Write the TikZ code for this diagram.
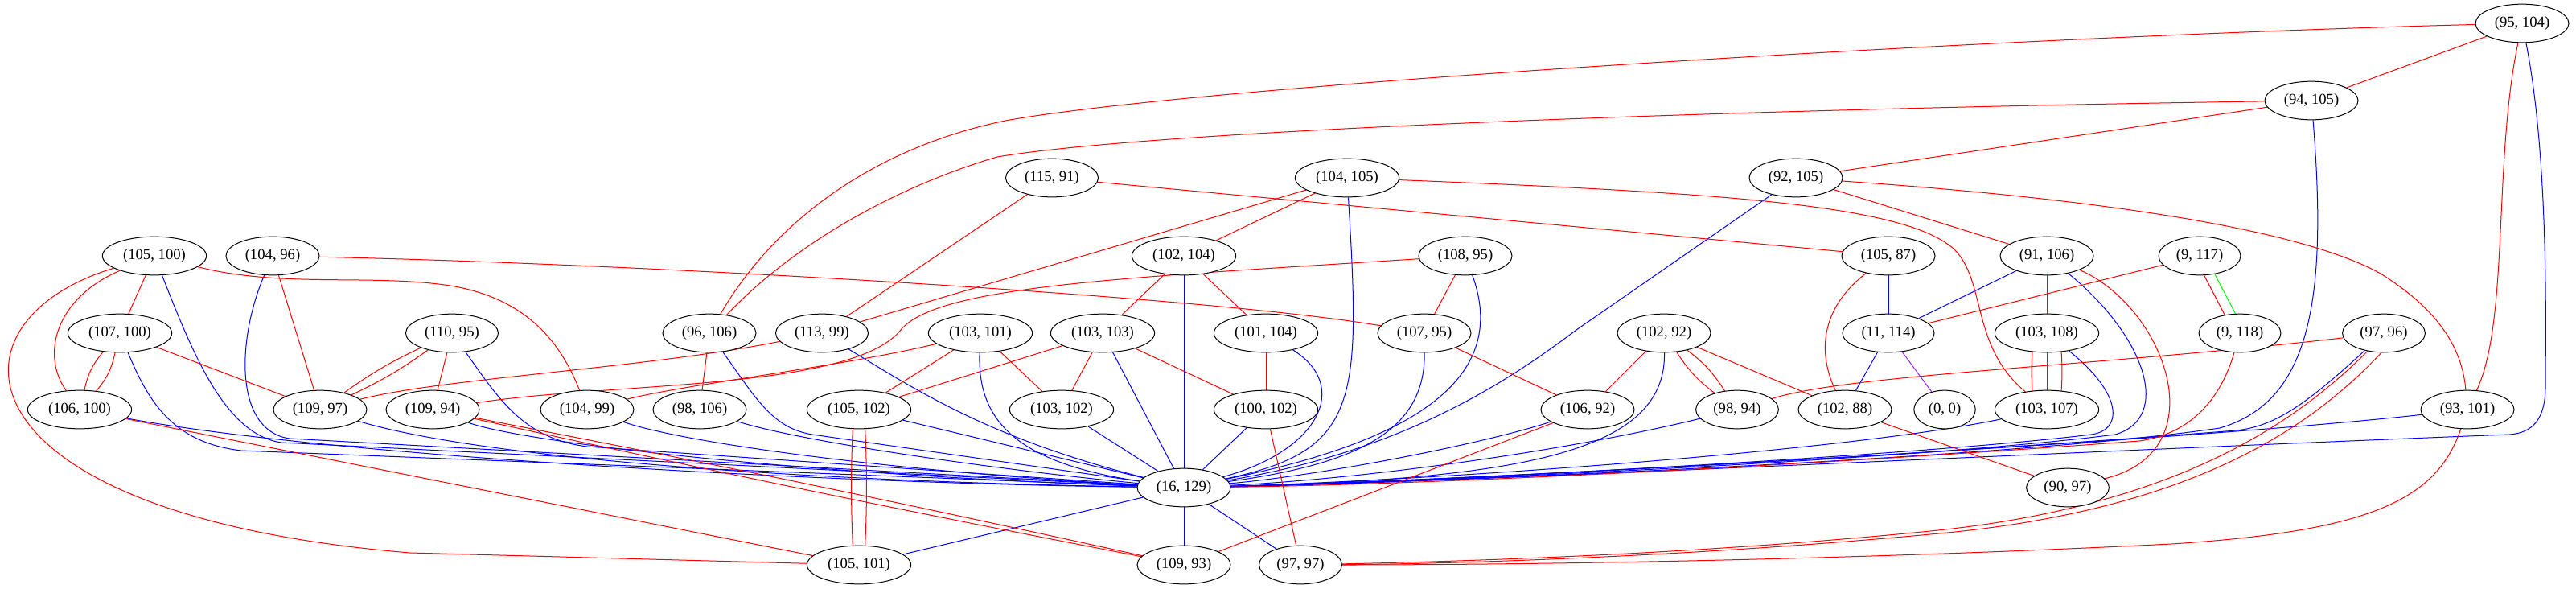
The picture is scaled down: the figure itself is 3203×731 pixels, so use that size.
\documentclass[tikz,border=0pt]{standalone}
\usepackage{fontspec}
\setmainfont{Liberation Serif}
\usetikzlibrary{shapes.geometric}
\pgfdeclarelayer{bg}
\pgfsetlayers{bg,main}
\definecolor{gvgreen}{RGB}{0,255,0}
\definecolor{gvpurple}{RGB}{160,32,240}
\begin{document}
\begin{tikzpicture}[x=1pt,y=-1pt,
  nd/.style={ellipse,draw=black,line width=1pt,fill=white,inner xsep=6.8pt,inner ysep=0pt,minimum height=47.7pt,minimum width=72pt,font=\fontsize{18.67}{22}\selectfont},
  re/.style={draw=red,line width=1pt},
  be/.style={draw=blue,line width=1pt},
  ge/.style={draw=gvgreen,line width=1pt},
  pe/.style={draw=gvpurple,line width=1pt}]
\useasboundingbox (0,0) rectangle (3203,731);
% nodes
\node[nd] (n95x104) at (3136,29) {(95, 104)};
\node[nd] (n94x105) at (2874,125) {(94, 105)};
\node[nd] (n115x91) at (1308,221) {(115, 91)};
\node[nd] (n104x105) at (1675,221) {(104, 105)};
\node[nd] (n92x105) at (2233,221) {(92, 105)};
\node[nd] (n105x100) at (192,318) {(105, 100)};
\node[nd] (n104x96) at (339,318) {(104, 96)};
\node[nd] (n102x104) at (1472,318) {(102, 104)};
\node[nd] (n108x95) at (1822,318) {(108, 95)};
\node[nd] (n105x87) at (2348,318) {(105, 87)};
\node[nd] (n91x106) at (2545,318) {(91, 106)};
\node[nd] (n9x117) at (2735,318) {(9, 117)};
\node[nd] (n107x100) at (149,414) {(107, 100)};
\node[nd] (n110x95) at (562,414) {(110, 95)};
\node[nd] (n96x106) at (882,414) {(96, 106)};
\node[nd] (n113x99) at (1022,414) {(113, 99)};
\node[nd] (n103x101) at (1219,414) {(103, 101)};
\node[nd] (n103x103) at (1371,414) {(103, 103)};
\node[nd] (n101x104) at (1574,414) {(101, 104)};
\node[nd] (n107x95) at (1771,414) {(107, 95)};
\node[nd] (n102x92) at (2069,414) {(102, 92)};
\node[nd] (n11x114) at (2348,414) {(11, 114)};
\node[nd] (n103x108) at (2545,414) {(103, 108)};
\node[nd] (n9x118) at (2785,414) {(9, 118)};
\node[nd] (n97x96) at (2964,414) {(97, 96)};
\node[nd] (n106x100) at (99,509) {(106, 100)};
\node[nd] (n109x97) at (398,509) {(109, 97)};
\node[nd] (n109x94) at (538,509) {(109, 94)};
\node[nd] (n104x99) at (730,509) {(104, 99)};
\node[nd] (n98x106) at (870,509) {(98, 106)};
\node[nd] (n105x102) at (1068,509) {(105, 102)};
\node[nd] (n103x102) at (1320,509) {(103, 102)};
\node[nd] (n100x102) at (1574,509) {(100, 102)};
\node[nd] (n106x92) at (1974,509) {(106, 92)};
\node[nd] (n98x94) at (2160,509) {(98, 94)};
\node[nd] (n102x88) at (2294,509) {(102, 88)};
\node[nd] (n0x0) at (2418,509) {(0, 0)};
\node[nd] (n103x107) at (2545,509) {(103, 107)};
\node[nd] (n93x101) at (3068,509) {(93, 101)};
\node[nd] (n16x129) at (1472,606) {(16, 129)};
\node[nd] (n90x97) at (2571,606) {(90, 97)};
\node[nd] (n105x101) at (1068,702) {(105, 101)};
\node[nd] (n109x93) at (1472,702) {(109, 93)};
\node[nd] (n97x97) at (1617,702) {(97, 97)};
\begin{pgfonlayer}{bg}
\fill[white] (0,0) rectangle (3203,731);
% blue edges to (16,129)
\draw[be] (n105x100) .. controls (240,440) and (280,540) .. (350,550) -- (n16x129);
\draw[be] (n104x96) .. controls (295,420) and (290,535) .. (360,545) -- (n16x129);
\draw[be] (n107x100) .. controls (185,500) and (215,550) .. (300,560) -- (n16x129);
\draw[be] (n110x95) .. controls (620,495) and (650,545) .. (730,555) -- (n16x129);
\draw[be] (n106x100) .. controls (400,565) and (1000,600) .. (n16x129);
\draw[be] (n109x97) .. controls (600,570) and (1000,598) .. (n16x129);
\draw[be] (n109x94) .. controls (650,550) and (1000,590) .. (n16x129);
\draw[be] (n104x99) .. controls (850,550) and (1100,585) .. (n16x129);
\draw[be] (n96x106) .. controls (940,495) and (960,532) .. (1010,540) -- (n16x129);
\draw[be] (n98x106) .. controls (1000,550) and (1250,585) .. (n16x129);
\draw[be] (n113x99) .. controls (1140,485) and (1230,545) .. (n16x129);
\draw[be] (n103x101) .. controls (1215,520) and (1260,575) .. (n16x129);
\draw[be] (n105x102) -- (n16x129);
\draw[be] (n103x102) -- (n16x129);
\draw[be] (n103x103) -- (n16x129);
\draw[be] (n102x104) -- (n16x129);
\draw[be] (n101x104) .. controls (1680,480) and (1640,560) .. (n16x129);
\draw[be] (n100x102) -- (n16x129);
\draw[be] (n104x105) .. controls (1692,500) and (1690,560) .. (n16x129);
\draw[be] (n108x95) .. controls (1870,450) and (1800,540) .. (n16x129);
\draw[be] (n107x95) .. controls (1772,530) and (1700,575) .. (n16x129);
\draw[be] (n102x92) .. controls (2072,560) and (1900,595) .. (n16x129);
\draw[be] (n106x92) .. controls (1850,550) and (1650,590) .. (n16x129);
\draw[be] (n98x94) .. controls (1950,560) and (1700,595) .. (n16x129);
\draw[be] (n92x105) -- (1960,410) .. controls (1880,470) and (1750,560) .. (n16x129);
\draw[be] (n94x105) .. controls (2895,380) and (2870,500) .. (2760,532) .. controls (2500,570) and (1800,598) .. (n16x129);
\draw[be] (n95x104) .. controls (3170,200) and (3165,420) .. (3165,480) .. controls (3165,520) and (3150,538) .. (3120,540) .. controls (2600,560) and (1800,600) .. (n16x129);
\draw[be] (n91x106) .. controls (2670,420) and (2700,520) .. (2630,540) .. controls (2400,570) and (1800,598) .. (n16x129);
\draw[be] (n103x108) .. controls (2640,490) and (2640,535) .. (2600,540) .. controls (2400,565) and (1800,598) .. (n16x129);
\draw[be] (n103x107) .. controls (2300,560) and (1800,596) .. (n16x129);
\draw[be] (n97x96) .. controls (2870,500) and (2830,530) .. (2780,535) .. controls (2400,565) and (1800,598) .. (n16x129);
\draw[be] (n93x101) .. controls (2700,550) and (1800,598) .. (n16x129);
\draw[re] (n9x118) .. controls (2760,500) and (2720,540) .. (2660,548) .. controls (2300,575) and (1800,602) .. (n16x129);
\draw[be] (n16x129) -- (n105x101);
\draw[be] (n16x129) -- (n109x93);
\draw[be] (n16x129) -- (n97x97);
\draw[be] (n105x87) -- (n11x114);
\draw[be] (n11x114) -- (n102x88);
\draw[be] (n11x114) -- (n91x106);
\draw[pe] (n11x114) -- (n0x0);
% red edges
\draw[re] (n95x104) .. controls (2500,45) and (1500,105) .. (1250,150) .. controls (1080,185) and (960,280) .. (n96x106);
\draw[re] (n94x105) .. controls (2200,135) and (1450,160) .. (1240,195) .. controls (1120,230) and (990,300) .. (n96x106);
\draw[re] (n95x104) -- (n94x105);
\draw[re] (n95x104) .. controls (3100,200) and (3120,400) .. (n93x101);
\draw[re] (n94x105) -- (n92x105);
\draw[re] (n92x105) -- (n91x106);
\draw[re] (n92x105) .. controls (2650,250) and (2870,290) .. (2960,340) .. controls (3040,390) and (3062,440) .. (n93x101);
\draw[re] (n104x105) -- (n102x104);
\draw[re] (n104x105) -- (n113x99);
\draw[re] (n104x105) .. controls (2150,240) and (2370,255) .. (2430,310) .. controls (2470,350) and (2450,430) .. (n103x107);
\draw[re] (n115x91) -- (n113x99);
\draw[re] (n115x91) -- (n105x87);
\draw[re] (n105x100) -- (n107x100);
\draw[re] (n105x100) .. controls (70,370) and (50,440) .. (n106x100);
\draw[re] (n105x100) .. controls (-80,400) and (-60,640) .. (510,687) -- (n105x101);
\draw[re] (n105x100) .. controls (350,358) and (460,340) .. (560,355) .. controls (650,370) and (695,420) .. (n104x99);
\draw[re] (n104x96) -- (n109x97);
\draw[re] (n104x96) .. controls (800,328) and (1500,368) .. (n107x95);
\draw[re] (n107x100) to[bend right=14] (n106x100);
\draw[re] (n107x100) to[bend left=14] (n106x100);
\draw[re] (n107x100) -- (n109x97);
\draw[re] (n110x95) to[bend left=5] (n109x97);
\draw[re] (n110x95) to[bend right=5] (n109x97);
\draw[re] (n110x95) -- (n109x94);
\draw[re] (n106x100) -- (n105x101);
\draw[re] (n109x97) .. controls (550,470) and (800,458) .. (n113x99);
\draw[re] (n109x94) .. controls (760,475) and (1060,485) .. (1120,410) .. controls (1165,355) and (1400,345) .. (n108x95);
\draw[re] (n109x94) to[bend left=0.7] (n109x93);
\draw[re] (n109x94) to[bend right=0.7] (n109x93);
\draw[re] (n104x99) .. controls (850,478) and (1050,455) .. (n103x101);
\draw[re] (n96x106) -- (n98x106);
\draw[re] (n103x101) -- (n105x102);
\draw[re] (n103x101) -- (n103x102);
\draw[re] (n103x103) -- (n102x104);
\draw[re] (n103x103) -- (n105x102);
\draw[re] (n103x103) -- (n103x102);
\draw[re] (n103x103) -- (n100x102);
\draw[re] (n102x104) -- (n101x104);
\draw[re] (n101x104) -- (n100x102);
\draw[re] ([xshift=-6.5pt]n105x102.center) to[bend right=3] ([xshift=-6.5pt]n105x101.center);
\draw[re] ([xshift=6.5pt]n105x102.center) to[bend left=3] ([xshift=6.5pt]n105x101.center);
\draw[re] (n100x102) -- (n97x97);
\draw[re] (n109x93) -- (n106x92);
\draw[re] (n108x95) -- (n107x95);
\draw[re] (n107x95) -- (n106x92);
\draw[re] (n102x92) -- (n106x92);
\draw[re] (n102x92) to[bend left=10] (n98x94);
\draw[re] (n102x92) to[bend right=10] (n98x94);
\draw[re] (n102x92) -- (n102x88);
\draw[re] (n98x94) .. controls (2300,465) and (2600,456) .. (n97x96);
\draw[re] (n102x88) -- (n90x97);
\draw[re] (n105x87) .. controls (2255,390) and (2265,450) .. (n102x88);
\draw[re] (n11x114) -- (n9x117);
\draw[re] (n91x106) -- (n103x108);
\draw[re] (n91x106) .. controls (2690,380) and (2760,560) .. (n90x97);
\draw[re] (n103x108) -- (n103x107);
\draw[re] ([xshift=-16pt]n103x108.center) to[bend right=6] ([xshift=-16pt]n103x107.center);
\draw[re] ([xshift=16pt]n103x108.center) to[bend left=6] ([xshift=16pt]n103x107.center);
\draw[re] ([xshift=-7pt]n9x117.center) -- ([xshift=-7pt]n9x118.center);
\draw[ge] ([xshift=7pt]n9x117.center) -- ([xshift=7pt]n9x118.center);
\draw[re] (n97x96.-132) .. controls (2850,530) and (2700,630) .. (2400,660) .. controls (2100,690) and (1800,698) .. (n97x97);
\draw[re] (n97x96.-97) .. controls (2870,535) and (2720,636) .. (2400,664) .. controls (2100,692) and (1800,701) .. (n97x97);
\draw[re] (n93x101) .. controls (3030,620) and (2950,660) .. (2700,676) .. controls (2300,696) and (1900,702) .. (n97x97);
\end{pgfonlayer}
\end{tikzpicture}
\end{document}
